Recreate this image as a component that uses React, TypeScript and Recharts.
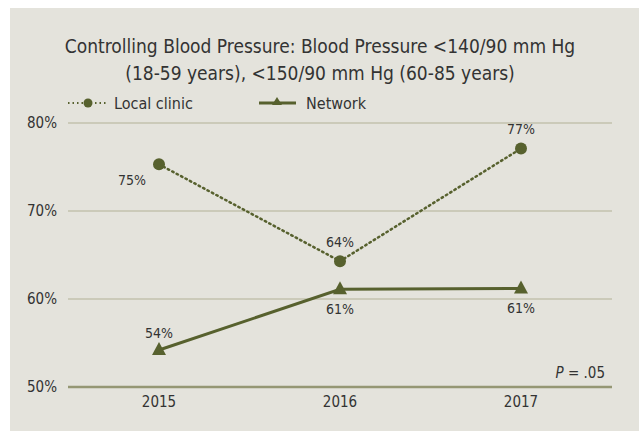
import React from 'react';
import { LineChart, Line, XAxis, YAxis, CartesianGrid, LabelList } from 'recharts';

const years = ['2015', '2016', '2017'];
const localClinic = [75.3, 64.3, 77.1];
const network = [54.2, 61.1, 61.2];
const yTicks = [50, 60, 70, 80];

const chartData = years.map((year, i) => ({ year, local: localClinic[i], network: network[i] }));

const OLIVE = '#57612e';
const FONT = '"DejaVu Sans Condensed", "Liberation Sans Narrow", sans-serif';
const TEXT = '#333333';

// label offsets (dx, dy) per point
const localOffsets = [[-27, 16], [0, -19], [0, -20]];
const networkOffsets = [[0, -17], [0, 20], [0, 20]];

const makeLabel = (offsets: number[][]) => (props: any) => {
  const { x, y, value, index } = props;
  const [dx, dy] = offsets[index];
  return (
    <text x={x + dx} y={y + dy} textAnchor="middle" dominantBaseline="central"
      fontSize={14} fill={TEXT} fontFamily={FONT}>
      {Math.round(value)}%
    </text>
  );
};

const Triangle = (props: any) => {
  const { cx, cy } = props;
  if (cx == null || cy == null) return null;
  return <path d={`M${cx},${cy - 8} L${cx + 7},${cy + 5} L${cx - 7},${cy + 5} Z`} fill={OLIVE} />;
};

export default function App() {
  return (
    <div style={{ position: 'absolute', left: 10, top: 8, width: 629, height: 423, background: '#e4e3dc', fontFamily: FONT, overflow: 'hidden' }}>
      <div style={{ position: 'absolute', left: 0, top: 25, width: 620, textAlign: 'center', fontSize: 19, lineHeight: '27px', color: TEXT }}>
        Controlling Blood Pressure: Blood Pressure &lt;140/90 mm Hg
        <br />
        (18-59 years), &lt;150/90 mm Hg (60-85 years)
      </div>
      <svg width={629} height={423} style={{ position: 'absolute', left: 0, top: 0, pointerEvents: 'none' }}>
        <line x1={58} x2={98} y1={95} y2={95} stroke={OLIVE} strokeWidth={2} strokeDasharray="1.5 3" />
        <circle cx={78} cy={95} r={4.5} fill={OLIVE} />
        <text x={104} y={95} dominantBaseline="central" fontSize={16} fill={TEXT} fontFamily={FONT}>Local clinic</text>
        <line x1={249} x2={286} y1={95} y2={95} stroke={OLIVE} strokeWidth={3} />
        <path d="M267,89 L272,97 L262,97 Z" fill={OLIVE} />
        <text x={296} y={95} dominantBaseline="central" fontSize={16} fill={TEXT} fontFamily={FONT}>Network</text>
        <text x={595} y={365} textAnchor="end" dominantBaseline="central" fontSize={15} fill={TEXT} fontFamily={FONT}>
          <tspan fontStyle="italic">P</tspan> = .05
        </text>
      </svg>
      <LineChart width={629} height={423} data={chartData}
        margin={{ top: 115, right: 27, bottom: 14, left: 8 }} style={{ position: 'absolute', left: 0, top: 0 }}>
        <CartesianGrid horizontal vertical={false} stroke="#c3c2ae" strokeWidth={1.5} />
        <XAxis dataKey="year" padding={{ left: 91, right: 91 }} tickLine={false} tickSize={0} tickMargin={9}
          axisLine={{ stroke: '#959774', strokeWidth: 2.5 }} height={30}
          tick={{ fontSize: 15, fill: TEXT, fontFamily: FONT }} />
        <YAxis domain={[50, 80]} ticks={yTicks} width={50} axisLine={false} tickLine={false} tickSize={0} tickMargin={11}
          tickFormatter={(v: number) => `${v}%`} tick={{ fontSize: 15, fill: TEXT, fontFamily: FONT }} />
        <Line dataKey="local" stroke={OLIVE} strokeWidth={2.5} strokeDasharray="1.5 3.5" strokeLinecap="round"
          dot={{ r: 6, fill: OLIVE, stroke: OLIVE, strokeWidth: 0, strokeDasharray: '0' }} isAnimationActive={false}>
          <LabelList dataKey="local" content={makeLabel(localOffsets)} />
        </Line>
        <Line dataKey="network" stroke={OLIVE} strokeWidth={3} dot={<Triangle />} isAnimationActive={false}>
          <LabelList dataKey="network" content={makeLabel(networkOffsets)} />
        </Line>
      </LineChart>
    </div>
  );
}
